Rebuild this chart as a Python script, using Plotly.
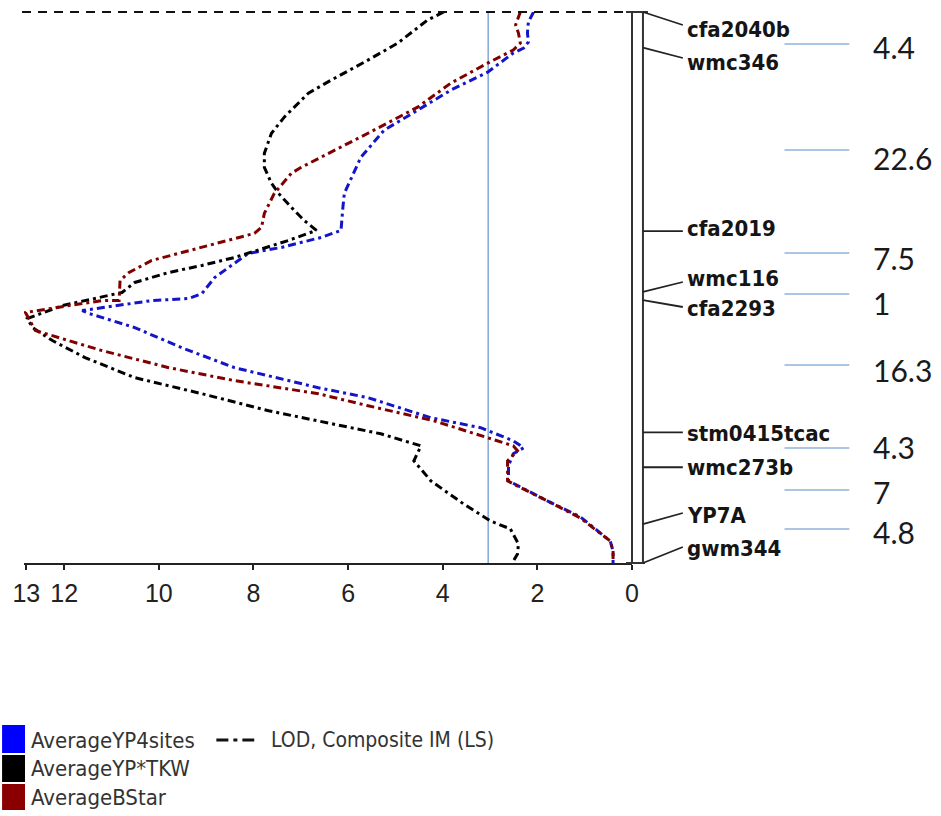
import plotly.graph_objects as go

# ---------------- data ----------------
markers = ["cfa2040b", "wmc346", "cfa2019", "wmc116", "cfa2293",
           "stm0415tcac", "wmc273b", "YP7A", "gwm344"]
intervals = [4.4, 22.6, 7.5, 1, 16.3, 4.3, 7, 4.8]
interval_labels = ["4.4", "22.6", "7.5", "1", "16.3", "4.3", "7", "4.8"]

# LOD profiles (LOD value, position cM)
yp4_lod = [2.08, 2.19, 2.21, 2.19, 2.29, 2.51, 3.05, 3.83, 4.53, 5.24, 5.73, 6.08, 6.11, 6.15,
           6.57, 7.41, 8.11, 8.40, 8.82, 9.09, 9.37, 10.15, 11.2, 11.62, 11.47, 10.51, 9.52,
           8.40, 6.63, 5.58, 4.25, 3.20, 2.51, 2.29, 2.51, 2.61, 2.61, 1.79, 1.09, 0.74, 0.46,
           0.40, 0.40]
yp4_cm = [0, 1.23, 2.59, 3.70, 4.44, 5.06, 7.41, 9.63, 12.10, 14.57, 17.90, 22.35, 24.07, 26.91,
          27.78, 29.01, 29.75, 30.99, 32.72, 34.69, 35.31, 35.56, 36.42, 36.79, 37.16, 38.89, 41.36,
          43.83, 46.30, 47.53, 50.0, 51.23, 52.84, 53.70, 54.44, 55.93, 57.78, 60.25, 62.22, 63.83,
          65.19, 66.42, 67.9]

tkw_lod = [3.98, 4.32, 4.95, 5.58, 6.36, 6.84, 7.35, 7.62, 7.77, 7.77, 7.62, 7.47, 7.20, 6.93,
           6.67, 6.84, 7.26, 8.40, 9.09, 9.79, 10.51, 10.78, 12.04, 12.78, 12.67, 12.25, 11.56,
           10.51, 9.09, 7.68, 6.63, 5.31, 4.46, 4.61, 4.25, 3.56, 2.99, 2.57, 2.40, 2.42, 2.53]
tkw_cm = [0, 0.99, 3.83, 5.93, 8.40, 10.0, 12.96, 14.94, 17.41, 19.14, 21.11, 22.35, 24.07, 25.68,
          26.91, 27.28, 28.15, 30.25, 31.23, 32.10, 33.33, 34.57, 36.17, 37.78, 38.89, 40.49, 42.59,
          45.06, 47.04, 49.14, 50.37, 51.98, 53.46, 55.31, 57.78, 60.62, 62.72, 63.70, 65.56, 66.79,
          67.9]

bstar_lod = [2.36, 2.46, 2.40, 2.36, 2.51, 3.05, 3.83, 4.53, 5.58, 6.29, 6.99, 7.20, 7.56, 7.77,
             7.83, 7.98, 9.09, 10.15, 10.63, 10.82, 10.84, 11.2, 11.89, 12.82, 12.61, 11.2, 9.79,
             8.40, 6.63, 5.58, 4.19, 3.05, 2.51, 2.42, 2.63, 2.63, 2.51, 1.79, 1.09, 0.74, 0.46,
             0.40, 0.40]
bstar_cm = [0, 1.60, 2.59, 3.83, 4.69, 6.30, 8.77, 11.73, 14.94, 17.04, 19.14, 19.88, 22.35, 24.81,
            26.54, 27.28, 29.01, 30.62, 32.10, 33.09, 35.56, 35.56, 36.17, 37.04, 39.26, 41.73, 43.83,
            45.43, 47.04, 48.52, 50.37, 52.47, 53.46, 54.07, 55.31, 57.78, 58.15, 60.25, 62.35, 63.95,
            65.19, 66.42, 67.9]

threshold = 3.04
tick_vals = [12.8, 12, 10, 8, 6, 4, 2, 0]
tick_text = ["13", "12", "10", "8", "6", "4", "2", "0"]

series_names = ["AverageYP4sites", "AverageYP*TKW", "AverageBStar"]
series_colors = ["#1414c8", "#000000", "#800000"]
legend_swatch = ["#0000ff", "#000000", "#8a0000"]

# ---------------- geometry helpers ----------------
W, H = 941, 816
L, R, T, B = 22, 309, 12, 253
PW, PH = W - L - R, H - T - B
total_cm = sum(intervals)
marker_cm = [0]
for d in intervals:
    marker_cm.append(round(marker_cm[-1] + d, 2))


def xp(px):
    return (px - L) / PW


def yp(py):
    return (H - B - py) / PH


def ycm(c):
    return 1 - c / total_cm


NARROW = "DejaVu Sans Condensed, Liberation Sans, Arial, sans-serif"

fig = go.Figure()
dash = "8px,4px,3px,4px"
for name, col, lx, ly in zip(series_names, series_colors,
                             [yp4_lod, tkw_lod, bstar_lod], [yp4_cm, tkw_cm, bstar_cm]):
    fig.add_trace(go.Scatter(x=lx, y=ly, mode="lines", name=name,
                             line=dict(color=col, width=3, dash=dash),
                             cliponaxis=False, showlegend=False))

shapes = []
# threshold line
shapes.append(dict(type="line", xref="x", yref="y", x0=threshold, x1=threshold, y0=0, y1=total_cm,
                   line=dict(color="#6d9bd2", width=1.3), layer="below"))
# dashed top line
shapes.append(dict(type="line", xref="paper", yref="paper", x0=xp(20), x1=xp(647), y0=1, y1=1,
                   line=dict(color="#111", width=2.2, dash="9px,7px")))
# chromosome bar
for px in [632, 643]:
    shapes.append(dict(type="line", xref="paper", yref="paper", x0=xp(px), x1=xp(px), y0=0, y1=1,
                       line=dict(color="#333", width=2)))
shapes.append(dict(type="line", xref="paper", yref="paper", x0=xp(626), x1=xp(648), y0=1, y1=1,
                   line=dict(color="#333", width=2)))
shapes.append(dict(type="line", xref="paper", yref="paper", x0=xp(626), x1=xp(645), y0=0, y1=0,
                   line=dict(color="#333", width=2)))

label_py = [30, 62, 229, 278, 308, 433, 467, 515, 548]
conn_py = [25, 58, None, 282, 307, None, None, 513, 547]
annotations = []
for name, c, lpy, cpy in zip(markers, marker_cm, label_py, conn_py):
    y0 = ycm(c)
    y1 = yp(cpy) if cpy is not None else y0
    shapes.append(dict(type="line", xref="paper", yref="paper", x0=xp(643), x1=xp(683), y0=y0, y1=y1,
                       line=dict(color="#222", width=1.8)))
    annotations.append(dict(text=name, xref="paper", yref="paper", x=xp(685), y=yp(lpy),
                            xanchor="left", yanchor="middle", showarrow=False,
                            font=dict(family=NARROW, size=22, color="#151515", weight="bold")))

dist_line_py = [44, 150, 253, 294, 365, 448, 490, 529]
dist_text_py = [47, 158, 258, 303, 370, 447, 492, 532]
for t, lpy, tpy in zip(interval_labels, dist_line_py, dist_text_py):
    shapes.append(dict(type="line", xref="paper", yref="paper", x0=xp(785), x1=xp(850), y0=yp(lpy), y1=yp(lpy),
                       line=dict(color="#8fb2da", width=1.5)))
    annotations.append(dict(text=t, xref="paper", yref="paper", x=xp(872), y=yp(tpy),
                            xanchor="left", yanchor="middle", showarrow=False,
                            font=dict(family="Lato", size=30, color="#1a1a1a")))

# legend (drawn manually)
sw_top = [725, 755, 784]
sw_bot = [753, 782, 810]
txt_py = [740, 768, 797]
for name, col, t0, t1, ty in zip(series_names, legend_swatch, sw_top, sw_bot, txt_py):
    shapes.append(dict(type="rect", xref="paper", yref="paper", x0=xp(0), x1=xp(23), y0=yp(t1), y1=yp(t0),
                       fillcolor=col, line=dict(width=0)))
    annotations.append(dict(text=name, xref="paper", yref="paper", x=xp(27), y=yp(ty),
                            xanchor="left", yanchor="middle", showarrow=False,
                            font=dict(family=NARROW, size=22, color="#333")))
shapes.append(dict(type="line", xref="paper", yref="paper", x0=xp(215), x1=xp(253), y0=yp(740), y1=yp(740),
                   line=dict(color="#111", width=3, dash="12px,5px,4px,5px")))
annotations.append(dict(text="LOD, Composite IM (LS)", xref="paper", yref="paper", x=xp(268), y=yp(740),
                        xanchor="left", yanchor="middle", showarrow=False,
                        font=dict(family=NARROW, size=21, color="#333")))

fig.update_layout(
    width=W, height=H, margin=dict(l=L, r=R, t=T, b=B),
    paper_bgcolor="white", plot_bgcolor="white",
    shapes=shapes, annotations=annotations, showlegend=False,
    xaxis=dict(range=[12.85, 0], tickvals=tick_vals, ticktext=tick_text, ticks="outside",
               ticklen=5, tickwidth=1.5, tickcolor="#222", showline=True, linewidth=2,
               linecolor="#222", showgrid=False, zeroline=False, ticklabelstandoff=2,
               tickfont=dict(family="Liberation Sans, Arial, sans-serif", size=25, color="#222")),
    yaxis=dict(range=[total_cm, 0], visible=False, showgrid=False, zeroline=False),
)

fig.write_html("out.html")
